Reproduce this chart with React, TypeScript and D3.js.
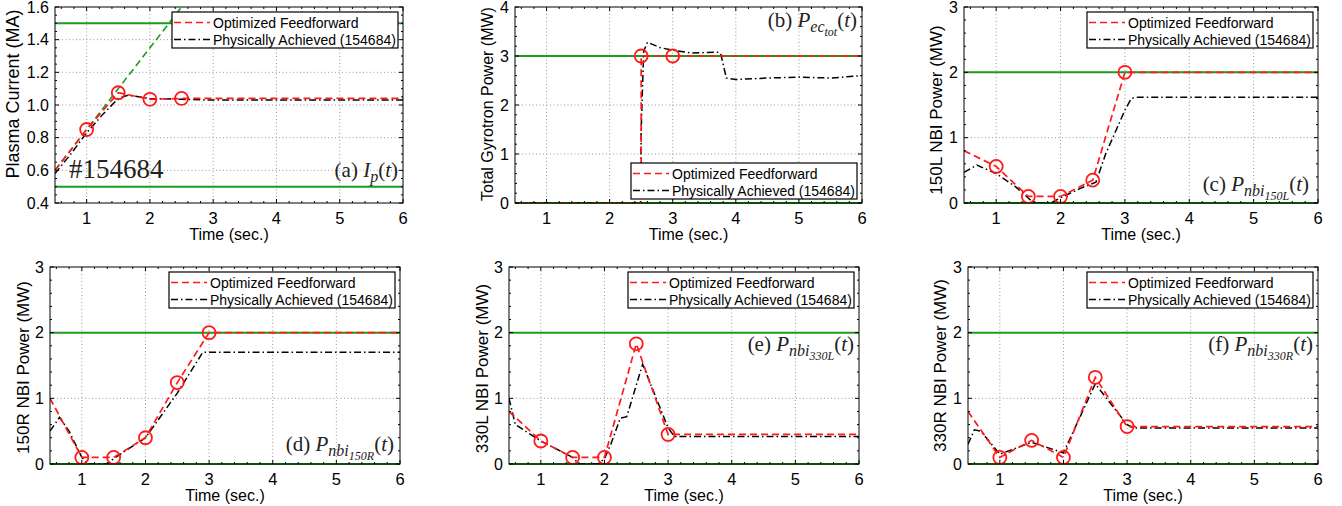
import React, { useRef, useEffect } from "react";
import * as d3 from "d3";

const WIDTH = 1342;
const HEIGHT = 506;

// Feedforward knot times (shared by every panel)
const ffTime = [0.5, 1, 1.5, 2, 2.5, 3, 6];
const xTicks = [1, 2, 3, 4, 5, 6];

// (a) plasma current
const ipFF = [0.6, 0.85, 1.075, 1.035, 1.04, 1.04, 1.04];
const ipCircles = [1, 1.5, 2, 2.5];
const ipActTime = [0.5, 0.75, 1, 1.25, 1.5, 1.65, 2, 2.5, 3, 4, 5, 6];
const ipAct = [0.58, 0.7, 0.83, 0.94, 1.04, 1.06, 1.04, 1.035, 1.03, 1.03, 1.03, 1.03];
const ipRampTime = [0.5, 2.5];
const ipRamp = [0.6, 1.6];
const ipBounds = [0.5, 1.5];
const ipTicks = [0.4, 0.6, 0.8, 1.0, 1.2, 1.4, 1.6];

// (b) total gyrotron power
const ecFFTime = [0.5, 2.5, 2.5, 3, 6];
const ecFF = [0, 0, 3, 3, 3];
const ecCircles = [2.5, 3];
const ecActTime = [0.5, 2.49, 2.5, 2.54, 2.6, 2.8, 3.0, 3.3, 3.7, 3.76, 3.85, 4.0, 4.5, 5.0, 5.5, 6];
const ecAct = [0, 0, 1.5, 3.1, 3.28, 3.17, 3.12, 3.06, 3.08, 3.05, 2.55, 2.52, 2.55, 2.57, 2.55, 2.6];
const ecBounds = [0, 3];

// (c) 150L NBI
const l150FF = [0.8, 0.56, 0.1, 0.1, 0.35, 2.0, 2.0];
const l150ActTime = [0.5, 0.7, 1.0, 1.3, 1.55, 1.65, 1.85, 2.0, 2.3, 2.55, 2.7, 3.0, 3.1, 3.2, 6];
const l150Act = [0.47, 0.58, 0.45, 0.25, 0.03, 0.0, 0.0, 0.08, 0.22, 0.32, 0.75, 1.42, 1.6, 1.62, 1.62];

// (d) 150R NBI
const r150FF = [1.0, 0.1, 0.1, 0.4, 1.24, 2.0, 2.0];
const r150ActTime = [0.5, 0.65, 0.8, 1.0, 1.1, 1.4, 1.5, 2.0, 2.5, 2.9, 3.0, 6];
const r150Act = [0.5, 0.71, 0.5, 0.1, 0.0, 0.0, 0.08, 0.4, 1.08, 1.7, 1.7, 1.7];

// (e) 330L NBI
const l330FF = [0.8, 0.35, 0.1, 0.1, 1.83, 0.45, 0.45];
const l330ActTime = [0.5, 0.6, 1.0, 1.5, 1.6, 1.9, 2.0, 2.1, 2.25, 2.35, 2.6, 3.0, 3.1, 6];
const l330Act = [1.0, 0.6, 0.35, 0.1, 0.0, 0.0, 0.08, 0.3, 0.7, 0.72, 1.52, 0.55, 0.42, 0.42];

// (f) 330R NBI
const r330FF = [0.8, 0.1, 0.36, 0.1, 1.32, 0.57, 0.57];
const r330ActTime = [0.5, 0.6, 0.7, 1.0, 1.5, 2.0, 2.5, 3.0, 3.1, 6];
const r330Act = [0.3, 0.52, 0.5, 0.15, 0.33, 0.17, 1.22, 0.6, 0.55, 0.55];

const nbiCircles = [1, 1.5, 2, 2.5, 3];
const nbiBounds = [0, 2];
const powerTicks = [0, 1, 2, 3];
const ecTicks = [0, 1, 2, 3, 4];

const legendLabels = ["Optimized Feedforward", "Physically Achieved (154684)"];

const zip = (t, v) => t.map((d, i) => [d, v[i]]);

// math annotation pieces: [text, italic, level]
const panels = [
  {
    box: [55, 7, 348, 196], yDomain: [0.4, 1.6], yTicks: ipTicks, yMinor: 0.05, fmt: d3.format(".1f"),
    yLabel: "Plasma Current (MA)", yLabelDx: 36, yLabelDy: -11, yLabelSize: 18,
    ff: zip(ffTime, ipFF), act: zip(ipActTime, ipAct), circles: ipCircles.map((t) => [t, ipFF[ffTime.indexOf(t)]]),
    ramp: zip(ipRampTime, ipRamp), bounds: ipBounds, legend: "top",
    note: [["(a) ", false, 0], ["I", true, 0], ["p", true, 1], ["(", false, 0], ["t", true, 0], [")", false, 0]],
    noteGap: 5, noteY: 177, shot: true,
  },
  {
    box: [515, 7, 347, 196], yDomain: [0, 4], yTicks: ecTicks, yMinor: 0.2, fmt: d3.format("d"),
    yLabel: "Total Gyrotron Power (MW)", yLabelDx: 22, yLabelDy: -1, yLabelSize: 16,
    ff: zip(ecFFTime, ecFF), act: zip(ecActTime, ecAct), circles: ecCircles.map((t) => [t, 3]),
    bounds: ecBounds, legend: "bottom",
    note: [["(b) ", false, 0], ["P", true, 0], ["ec", true, 1], ["tot", true, 2], ["(", false, 0], ["t", true, 0], [")", false, 0]],
    noteGap: 5, noteY: 27,
  },
  {
    box: [964, 7, 354, 196], yDomain: [0, 3], yTicks: powerTicks, yMinor: 0.2, fmt: d3.format("d"),
    yLabel: "150L NBI Power (MW)", yLabelDx: 22, yLabelDy: 5, yLabelSize: 17,
    ff: zip(ffTime, l150FF), act: zip(l150ActTime, l150Act), circles: nbiCircles.map((t) => [t, l150FF[ffTime.indexOf(t)]]),
    bounds: nbiBounds, legend: "top",
    note: [["(c) ", false, 0], ["P", true, 0], ["nbi", true, 1], ["150L", true, 2], ["(", false, 0], ["t", true, 0], [")", false, 0]],
    noteGap: 9, noteY: 191,
  },
  {
    box: [50, 267, 350, 197], yDomain: [0, 3], yTicks: powerTicks, yMinor: 0.2, fmt: d3.format("d"),
    yLabel: "150R NBI Power (MW)", yLabelDx: 21, yLabelDy: 2, yLabelSize: 17,
    ff: zip(ffTime, r150FF), act: zip(r150ActTime, r150Act), circles: nbiCircles.map((t) => [t, r150FF[ffTime.indexOf(t)]]),
    bounds: nbiBounds, legend: "top",
    note: [["(d) ", false, 0], ["P", true, 0], ["nbi", true, 1], ["150R", true, 2], ["(", false, 0], ["t", true, 0], [")", false, 0]],
    noteGap: 6, noteY: 451,
  },
  {
    box: [509, 267, 350, 197], yDomain: [0, 3], yTicks: powerTicks, yMinor: 0.2, fmt: d3.format("d"),
    yLabel: "330L NBI Power (MW)", yLabelDx: 21, yLabelDy: 3, yLabelSize: 17,
    ff: zip(ffTime, l330FF), act: zip(l330ActTime, l330Act), circles: nbiCircles.map((t) => [t, l330FF[ffTime.indexOf(t)]]),
    bounds: nbiBounds, legend: "top",
    note: [["(e) ", false, 0], ["P", true, 0], ["nbi", true, 1], ["330L", true, 2], ["(", false, 0], ["t", true, 0], [")", false, 0]],
    noteGap: 5, noteY: 351,
  },
  {
    box: [968, 267, 350, 197], yDomain: [0, 3], yTicks: powerTicks, yMinor: 0.2, fmt: d3.format("d"),
    yLabel: "330R NBI Power (MW)", yLabelDx: 22, yLabelDy: 0, yLabelSize: 17,
    ff: zip(ffTime, r330FF), act: zip(r330ActTime, r330Act), circles: nbiCircles.map((t) => [t, r330FF[ffTime.indexOf(t)]]),
    bounds: nbiBounds, legend: "top",
    note: [["(f) ", false, 0], ["P", true, 0], ["nbi", true, 1], ["330R", true, 2], ["(", false, 0], ["t", true, 0], [")", false, 0]],
    noteGap: 5, noteY: 351,
  },
];

const SANS = "'Liberation Sans', Arial, Helvetica, sans-serif";
const SERIF = "'Liberation Serif', 'DejaVu Serif', serif";
const GREEN = "#1c9c1c";
const RED = "#ff1a1a";
const FF_DASH = "7,4";
const ACT_DASH = "7,3,1.5,3";

const drawPanel = (root, p) => {
  const [left, top, w, h] = p.box;
  const g = root.append("g").attr("transform", `translate(${left},${top})`);
  const x = d3.scaleLinear().domain([0.5, 6]).range([0, w]);
  const y = d3.scaleLinear().domain(p.yDomain).range([h, 0]);

  g.append("rect").attr("width", w).attr("height", h).attr("fill", "white");

  // Grid punteado
  g.selectAll(".gx").data(xTicks.slice(0, -1)).join("line")
    .attr("x1", (d) => x(d)).attr("x2", (d) => x(d)).attr("y1", 0).attr("y2", h)
    .attr("stroke", "#9a9a9a").attr("stroke-dasharray", "1,2.5");
  g.selectAll(".gy").data(p.yTicks.slice(1, -1)).join("line")
    .attr("y1", (d) => y(d)).attr("y2", (d) => y(d)).attr("x1", 0).attr("x2", w)
    .attr("stroke", "#9a9a9a").attr("stroke-dasharray", "1,2.5");

  // Límites
  g.selectAll(".bound").data(p.bounds).join("line")
    .attr("x1", 0).attr("x2", w).attr("y1", (d) => y(d)).attr("y2", (d) => y(d))
    .attr("stroke", GREEN).attr("stroke-width", 2);

  const clip = `clip-${left}-${top}`;
  g.append("clipPath").attr("id", clip).append("rect").attr("width", w).attr("height", h);
  const plot = g.append("g").attr("clip-path", `url(#${clip})`);

  const line = d3.line().x((d) => x(d[0])).y((d) => y(d[1]));

  if (p.ramp) {
    plot.append("path").attr("d", line(p.ramp)).attr("fill", "none")
      .attr("stroke", GREEN).attr("stroke-width", 1.6).attr("stroke-dasharray", FF_DASH);
  }
  plot.append("path").attr("d", line(p.act)).attr("fill", "none")
    .attr("stroke", "black").attr("stroke-width", 1.5).attr("stroke-dasharray", ACT_DASH);
  plot.append("path").attr("d", line(p.ff)).attr("fill", "none")
    .attr("stroke", RED).attr("stroke-width", 1.7).attr("stroke-dasharray", FF_DASH);
  plot.selectAll("circle").data(p.circles).join("circle")
    .attr("cx", (d) => x(d[0])).attr("cy", (d) => y(d[1])).attr("r", 6.5)
    .attr("fill", "none").attr("stroke", RED).attr("stroke-width", 1.8);

  // Marco y ticks hacia dentro
  g.append("rect").attr("width", w).attr("height", h).attr("fill", "none").attr("stroke", "black");
  const xMinor = d3.range(0.6, 6, 0.2).filter((d) => Math.abs(d - Math.round(d)) > 0.01);
  const [y0, y1] = p.yDomain;
  const yMinor = d3.range(y0, y1, p.yMinor).filter((d) => !p.yTicks.some((t) => Math.abs(t - d) < 1e-6));
  const tick = (vals, len) => {
    vals.forEach((d) => {
      g.append("line").attr("x1", x(d)).attr("x2", x(d)).attr("y1", h).attr("y2", h - len).attr("stroke", "black");
      g.append("line").attr("x1", x(d)).attr("x2", x(d)).attr("y1", 0).attr("y2", len).attr("stroke", "black");
    });
  };
  tick(xTicks, 4);
  tick(xMinor, 2);
  const ytick = (vals, len) => {
    vals.forEach((d) => {
      g.append("line").attr("y1", y(d)).attr("y2", y(d)).attr("x1", 0).attr("x2", len).attr("stroke", "black");
      g.append("line").attr("y1", y(d)).attr("y2", y(d)).attr("x1", w).attr("x2", w - len).attr("stroke", "black");
    });
  };
  ytick(p.yTicks, 4);
  ytick(yMinor, 2);

  // Rótulos de ticks
  g.selectAll(".xl").data(xTicks).join("text")
    .attr("x", (d) => x(d)).attr("y", h + 21).attr("text-anchor", "middle")
    .style("font-family", SANS).style("font-size", "16.5px").text((d) => d);
  g.selectAll(".yl").data(p.yTicks).join("text")
    .attr("x", -6).attr("y", (d) => y(d)).attr("dy", "0.36em").attr("text-anchor", "end")
    .style("font-family", SANS).style("font-size", "16px").text((d) => p.fmt(d));

  g.append("text").attr("x", w / 2).attr("y", h + 37).attr("text-anchor", "middle")
    .style("font-family", SANS).style("font-size", "16px").text("Time (sec.)");
  g.append("text").attr("transform", `translate(${-p.yLabelDx},${h / 2 + p.yLabelDy}) rotate(-90)`)
    .attr("text-anchor", "middle").style("font-family", SANS).style("font-size", `${p.yLabelSize}px`).text(p.yLabel);

  // Leyenda
  const lw = 226, lh = 36;
  const lx = w - 5 - lw;
  const ly = p.legend === "top" ? 5 : h - 4 - lh;
  const leg = g.append("g").attr("transform", `translate(${lx},${ly})`);
  leg.append("rect").attr("width", lw).attr("height", lh).attr("fill", "white").attr("stroke", "black").attr("stroke-width", 1.2);
  const styles = [[RED, FF_DASH], ["black", ACT_DASH]];
  legendLabels.forEach((label, i) => {
    const cy = 10.5 + i * 17;
    leg.append("line").attr("x1", 2).attr("x2", 38).attr("y1", cy).attr("y2", cy)
      .attr("stroke", styles[i][0]).attr("stroke-width", 1.7).attr("stroke-dasharray", styles[i][1]);
    leg.append("text").attr("x", 41).attr("y", cy).attr("dy", "0.36em")
      .style("font-family", SANS).style("font-size", "14px").text(label);
  });

  // Anotación
  const sizes = [21, 16, 12];
  const offs = [0, 5, 9];
  const note = g.append("text").attr("x", w - p.noteGap).attr("y", p.noteY - top)
    .attr("text-anchor", "end").style("font-family", SERIF).attr("fill", "#222");
  let cur = 0;
  p.note.forEach(([txt, italic, level]) => {
    note.append("tspan").attr("dy", offs[level] - cur)
      .style("font-size", `${sizes[level]}px`).style("font-style", italic ? "italic" : "normal")
      .text(txt);
    cur = offs[level];
  });

  if (p.shot) {
    g.append("text").attr("x", 14).attr("y", 178 - top).style("font-family", SERIF)
      .style("font-size", "27px").attr("fill", "#222").text("#154684");
  }
};

export default function App() {
  const ref = useRef(null);

  useEffect(() => {
    const svg = d3.select(ref.current);
    svg.selectChildren().remove();
    svg.append("rect").attr("width", WIDTH).attr("height", HEIGHT).attr("fill", "white");
    panels.forEach((p) => drawPanel(svg, p));
  }, []);

  return (
    <svg
      ref={ref}
      width={WIDTH}
      height={HEIGHT}
      style={{ position: "absolute", left: 0, top: 0 }}
    />
  );
}
